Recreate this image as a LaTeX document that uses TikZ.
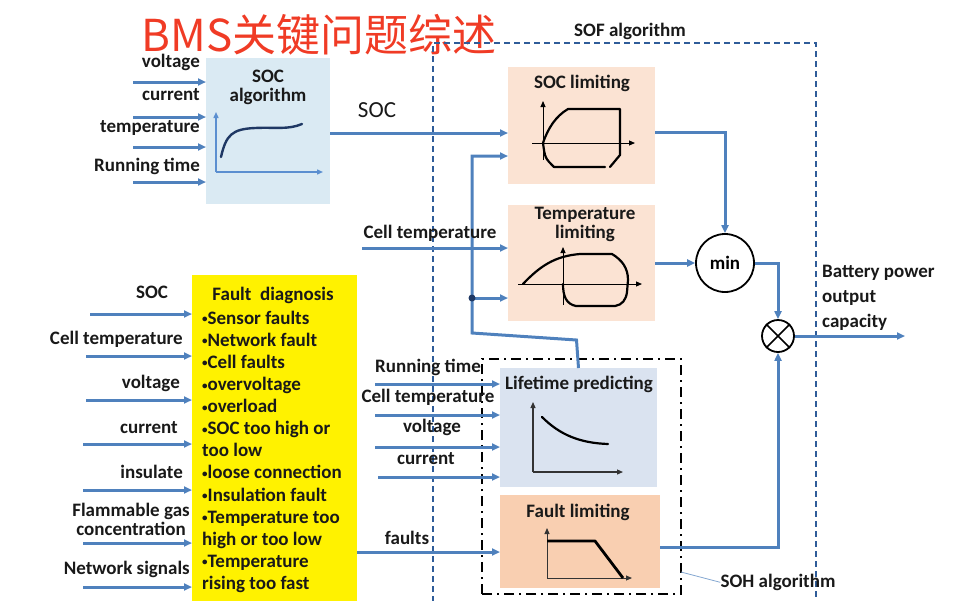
\documentclass[tikz,border=0pt]{standalone}
\usepackage{fontspec}
\setmainfont{Carlito}
\newfontfamily\cjkfont{Noto Sans CJK SC}
\usetikzlibrary{arrows.meta}
\definecolor{lineblue}{HTML}{4F81BD}
\definecolor{sofblue}{HTML}{2F5C99}
\definecolor{socbox}{HTML}{DAEAF3}
\definecolor{limbox}{HTML}{FBE3D3}
\definecolor{lifebox}{HTML}{DAE3F0}
\definecolor{faultbox}{HTML}{F9CFB1}
\definecolor{titlered}{HTML}{F03B25}
\definecolor{navy}{HTML}{1F3864}
\definecolor{axblue}{HTML}{5B8FD0}
\newcommand{\smbul}{{\fontsize{11}{11}\selectfont\raisebox{1.6pt}{•}}}
\begin{document}
\begin{tikzpicture}[x=1pt,y=-1pt,
  arr/.style={draw=lineblue, line width=3pt, -{Triangle[length=8pt,width=7pt]}},
  axisl/.style={draw=black, line width=1pt, -{Triangle[length=6pt,width=5pt]}},
  curvel/.style={draw=black, line width=2.2pt, line cap=round, line join=round},
  boxs/.style={inner sep=0, outer sep=0, draw=none},
  lbl/.style={font=\fontsize{19}{22}\selectfont\bfseries, text=black!90, inner sep=0},
  sofdash/.style={draw=sofblue, line width=2pt, dash pattern=on 6pt off 4pt},
  sohdash/.style={draw=black, line width=2.4pt, dash pattern=on 10pt off 5pt on 2pt off 5pt},
  ring/.style={draw=black, line width=1.8pt, circle, inner sep=0}]
\useasboundingbox (0,0) rectangle (960,600);

% title
\node[inner sep=0, text=titlered, font=\cjkfont\fontsize{44}{44}\selectfont] (title) at (319,35) {BMS关键问题综述};

% boxes
\node[boxs, fill=socbox, minimum width=124pt, minimum height=146pt] (socalg) at (268,131) {};
\node[boxs, fill=limbox, minimum width=147pt, minimum height=117pt] (soclim) at (581.5,125.5) {};
\node[boxs, fill=limbox, minimum width=147pt, minimum height=116pt] (tmplim) at (581.5,263) {};
\node[boxs, fill=lifebox, minimum width=157pt, minimum height=119pt] (life) at (578.5,427.5) {};
\node[boxs, fill=faultbox, minimum width=160pt, minimum height=93pt] (faultlim) at (580,541.5) {};
\node[boxs, fill=yellow, minimum width=165pt, minimum height=330pt, anchor=north west] (fd) at (192,275) {};

% SOF and SOH frames
\draw[sofdash] (433,602) -- (433,43) -- (816,43) -- (816,602);
\node[lbl] (sofl) at (630,31) {SOF algorithm};
\draw[sohdash] (482,594) -- (482,359) -- (681,359) -- (681,594) -- cycle;
\node[lbl, anchor=mid] (sohl) at (778,585) {SOH algorithm};
\coordinate (sohc) at (681,572);
\draw[lineblue!70, line width=0.8pt] (sohc) -- (sohl.west);

% circles
\node[ring, minimum size=58pt, font=\fontsize{19}{20}\selectfont\bfseries] (minN) at (725,263) {min};
\node[ring, minimum size=32pt] (mult) at (778,336) {};
\draw[line width=1.5pt] (mult.north west) -- (mult.south east) (mult.north east) -- (mult.south west);

% SOC algorithm inputs
\foreach \yy/\nm in {82/a,117/b,147/c,182/d}{
  \coordinate (sin\nm) at (133,\yy);
  \draw[arr] (sin\nm) -- (sin\nm -| socalg.west);
}
\node[lbl, anchor=mid east] (sl1) at (200,65) {voltage};
\node[lbl, anchor=mid east] (sl2) at (200,98) {current};
\node[lbl, anchor=mid east] (sl3) at (200,130) {temperature};
\node[lbl, anchor=mid east] (sl4) at (200,169) {Running time};
\node[lbl, align=center, font=\fontsize{19}{19}\selectfont\bfseries] (soct) at (268,87) {SOC\\algorithm};
% SOC algorithm graph
\coordinate (sax) at (216,172);
\draw[draw=axblue, line width=1.4pt, -{Triangle[length=6pt,width=5pt]}] (sax) -- (216,112);
\draw[draw=axblue, line width=1.4pt, -{Triangle[length=6pt,width=5pt]}] (sax) -- (323,172);
\draw[draw=navy, line width=2.4pt, line cap=round] (221,157) .. controls (226,135) and (232,129) .. (255,128) .. controls (275,127) and (288,130) .. (302,124);

% SOC output
\coordinate (socout) at (socalg.east |- 0,133);
\draw[arr] (socout) -- (socout -| soclim.west);
\node[inner sep=0, font=\fontsize{23}{23}\selectfont, text=black!90] (socl) at (377,110) {SOC};

% SOC limiting
\node[lbl] (soclt) at (582,83) {SOC limiting};
\draw[axisl] (543,160) -- (543,101);
\draw[axisl] (532,143) -- (635,143);
\draw[curvel] (605,167) -- (554,167) .. controls (545,158) .. (543,143) .. controls (548,128) and (556,116) .. (568,109) -- (620,109) -- (620,155) -- (610,167);

% Temperature limiting
\node[lbl, align=center, font=\fontsize{19}{19}\selectfont\bfseries] (tmplt) at (585,224) {Temperature\\limiting};
\draw[axisl] (563,305) -- (563,247);
\draw[axisl] (518,284) -- (642,284);
\draw[curvel] (523,284) .. controls (540,266) and (555,256) .. (580,254) -- (612,254) .. controls (622,260) and (628,268) .. (628,280) -- (627,292) .. controls (626,300) and (622,305) .. (615,306) -- (576,306) .. controls (566,304) and (563,296) .. (563,284);

% Cell temperature into temperature limiting
\coordinate (ctin) at (362,248);
\draw[arr] (ctin) -- (ctin -| tmplim.west);

% feedback from lifetime predicting
\coordinate (jt) at (472,298);
\draw[arr] (life.north) -- ++(-2,-28) -- (472,333) -- (472,156) -- (soclim.west |- 0,156);
\draw[arr] (jt) -- (jt -| tmplim.west);
\fill[navy] (jt) circle (3.5pt);

% to min and multiplier
\draw[arr] (soclim.east |- 0,132) -- (minN.north |- 0,132) -- (minN.north);
\draw[arr] (tmplim.east |- minN.west) -- (minN.west);
\draw[arr] (minN.east) -- (mult.north |- minN.east) -- (mult.north);
\coordinate (outp) at (905,336);
\draw[arr] (mult.east) -- (outp);
\draw[arr] (faultlim.east |- 0,547) -- (mult.south |- 0,547) -- (mult.south);
\node[lbl, align=left, anchor=west, font=\fontsize{19}{25}\selectfont\bfseries] (bpl) at (822,298) {Battery power\\output\\capacity};

% Lifetime predicting
\node[lbl] (lifet) at (579,384) {Lifetime predicting};
\draw[draw=black!80, line width=1.2pt, -{Triangle[length=6pt,width=5pt]}] (533,472) -- (533,402);
\draw[draw=black!80, line width=1.2pt, -{Triangle[length=6pt,width=5pt]}] (533,472) -- (623,472);
\draw[curvel] (542,417) .. controls (560,435) and (580,443) .. (608,444);
\foreach \yy/\xx/\nm in {384/375/a,415/375/b,447/375/c,477/378/d}{
  \coordinate (lin\nm) at (\xx,\yy);
  \draw[arr] (lin\nm) -- (lin\nm -| life.west);
}
\node[lbl, anchor=mid] (ll1) at (428,370) {Running time};
\node[lbl, anchor=mid] (ll2) at (428,400) {Cell temperature};
\node[lbl, anchor=mid] (ll3) at (432,430) {voltage};
\node[lbl, anchor=mid] (ll4) at (426,462) {current};
\node[lbl, anchor=mid] (ctl) at (430,236) {Cell temperature};

% Fault limiting
\node[lbl] (faultt) at (578,512) {Fault limiting};
\draw[draw=black!80, line width=1pt, -{Triangle[length=6pt,width=5pt]}] (547,578) -- (547,528);
\draw[draw=black!80, line width=1pt, -{Triangle[length=6pt,width=5pt]}] (547,578) -- (632,578);
\draw[draw=black, line width=2.8pt, line join=round] (547,541) -- (595,541) -- (623,578);

% faults
\draw[arr] (fd.east |- 0,552) -- (faultlim.west |- 0,552);
\node[lbl, anchor=mid] (faultsl) at (407,542) {faults};

% Fault diagnosis text
\node[lbl, anchor=mid] (fdt) at (273,298) {Fault\ \ diagnosis};
\foreach \t [count=\i] in {\smbul Sensor faults,\smbul Network fault,\smbul Cell faults,\smbul overvoltage,\smbul overload,\smbul SOC too high or,too low,\smbul loose connection,\smbul Insulation fault,\smbul Temperature too,high or too low,\smbul Temperature,rising too fast}{
  \node[lbl, anchor=mid west] (fdl\i) at (202,{322+22.08*(\i-1)}) {\t};
}

% Fault diagnosis inputs
\foreach \yy/\xx/\nm in {314/90/a,356/86/b,400/86/c,444/83/d,490/83/e,543/83/f,587/83/g}{
  \coordinate (fin\nm) at (\xx,\yy);
  \draw[arr] (fin\nm) -- (fin\nm -| fd.west);
}
\node[lbl, anchor=mid] (fl1) at (152,296) {SOC};
\node[lbl, anchor=mid east] (fl2) at (183,342) {Cell temperature};
\node[lbl, anchor=mid east] (fl3) at (180,386) {voltage};
\node[lbl, anchor=mid east] (fl4) at (178,431) {current};
\node[lbl, anchor=mid east] (fl5) at (183,476) {insulate};
\node[lbl, align=center, font=\fontsize{19}{19}\selectfont\bfseries] (fl6) at (131,519) {Flammable gas\\concentration};
\node[lbl, anchor=mid east] (fl7) at (190,572) {Network signals};
\end{tikzpicture}
\end{document}
